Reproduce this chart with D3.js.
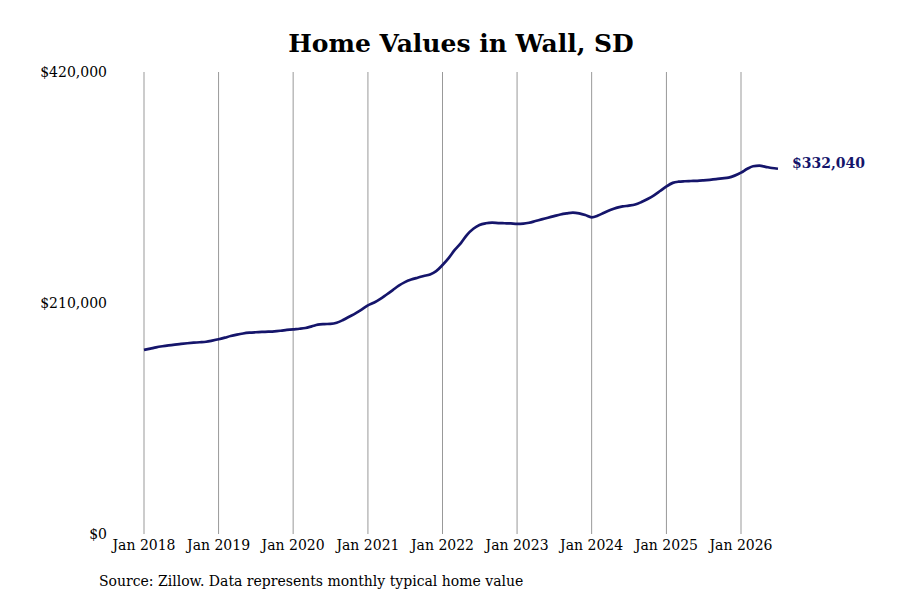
<!DOCTYPE html>
<html>
<head>
<meta charset="utf-8">
<script src="https://cdn.jsdelivr.net/npm/d3@7"></script>
<style>
  body { margin: 0; background: #fff; }
  svg { font-family: 'DejaVu Serif', serif; }
</style>
</head>
<body>
<svg id="chart" width="900" height="600"></svg>
<script>
// monthly typical home value, Jan 2018 .. Jul 2026
let startYear = 2018
let homeValues = [
  167300, 168500, 169700, 170700, 171500, 172200, 172800, 173400, 173900, 174300, 174800, 175800,
  177000, 178500, 180000, 181300, 182300, 183000, 183400, 183700, 183900, 184200, 184800, 185500,
  186100, 186600, 187300, 188800, 190300, 190800, 191000, 192000, 194500, 197500, 200500, 204000,
  207800, 210500, 213500, 217500, 221500, 225800, 229000, 231300, 233000, 234500, 236000, 239000,
  244500, 251000, 258000, 264500, 272000, 277500, 281000, 282500, 283000, 282700, 282500, 282300,
  282000, 282200, 283000, 284500, 286000, 287500, 289000, 290500, 291500, 292200, 291500, 290000,
  287900, 289500, 292000, 294500, 296500, 297800, 298500, 299500, 301800, 304500, 307800, 311800,
  316000, 319200, 320300, 320700, 320900, 321100, 321500, 322000, 322600, 323300, 324000, 325800,
  328500, 332000, 334300, 334800, 333800, 332700, 332040
]
let yTicks = [0, 210000, 420000]
let xTickYears = [2018, 2019, 2020, 2021, 2022, 2023, 2024, 2025, 2026]

let svg = d3.select('#chart')

let data = homeValues.map((v, i) => {
    return { date: new Date(startYear, i, 1), value: v }
})

let x = d3.scaleTime()
    .domain([new Date(2018, 0, 1), new Date(2026, 0, 1)])
    .range([144, 741])

let y = d3.scaleLinear()
    .domain([0, 420000])
    .range([534, 72])

let fmt = d3.format('$,')

// title
svg.append('text')
    .attr('x', 461)
    .attr('y', 52)
    .attr('text-anchor', 'middle')
    .style('font-size', '25px')
    .style('font-weight', 'bold')
    .text('Home Values in Wall, SD')

// vertical grid lines
svg.selectAll('line.grid')
    .data(xTickYears)
    .enter()
    .append('line')
    .attr('class', 'grid')
    .attr('x1', (d) => x(new Date(d, 0, 1)))
    .attr('x2', (d) => x(new Date(d, 0, 1)))
    .attr('y1', y(420000))
    .attr('y2', y(0))
    .attr('stroke', '#999')
    .attr('stroke-width', 1)

// x labels
svg.selectAll('text.xlab')
    .data(xTickYears)
    .enter()
    .append('text')
    .attr('class', 'xlab')
    .attr('x', (d) => x(new Date(d, 0, 1)))
    .attr('y', 550)
    .attr('text-anchor', 'middle')
    .style('font-size', '14px')
    .text((d) => 'Jan ' + d)

// y labels
svg.selectAll('text.ylab')
    .data(yTicks)
    .enter()
    .append('text')
    .attr('class', 'ylab')
    .attr('x', 107)
    .attr('y', (d) => y(d) + 5)
    .attr('text-anchor', 'end')
    .style('font-size', '14px')
    .text((d) => fmt(d))

// the line
let line = d3.line()
    .x((d) => x(d.date))
    .y((d) => y(d.value))
    .curve(d3.curveMonotoneX)

svg.append('path')
    .datum(data)
    .attr('d', line)
    .attr('fill', 'none')
    .attr('stroke', '#15156b')
    .attr('stroke-width', 2.7)

// end label
let last = data[data.length - 1]
svg.append('text')
    .attr('x', x(last.date) + 14)
    .attr('y', y(last.value) - 1)
    .style('font-size', '14px')
    .style('font-weight', 'bold')
    .attr('fill', '#15156b')
    .text(fmt(last.value))

// source
svg.append('text')
    .attr('x', 99)
    .attr('y', 586)
    .style('font-size', '14px')
    .text('Source: Zillow. Data represents monthly typical home value')
</script>
</body>
</html>
